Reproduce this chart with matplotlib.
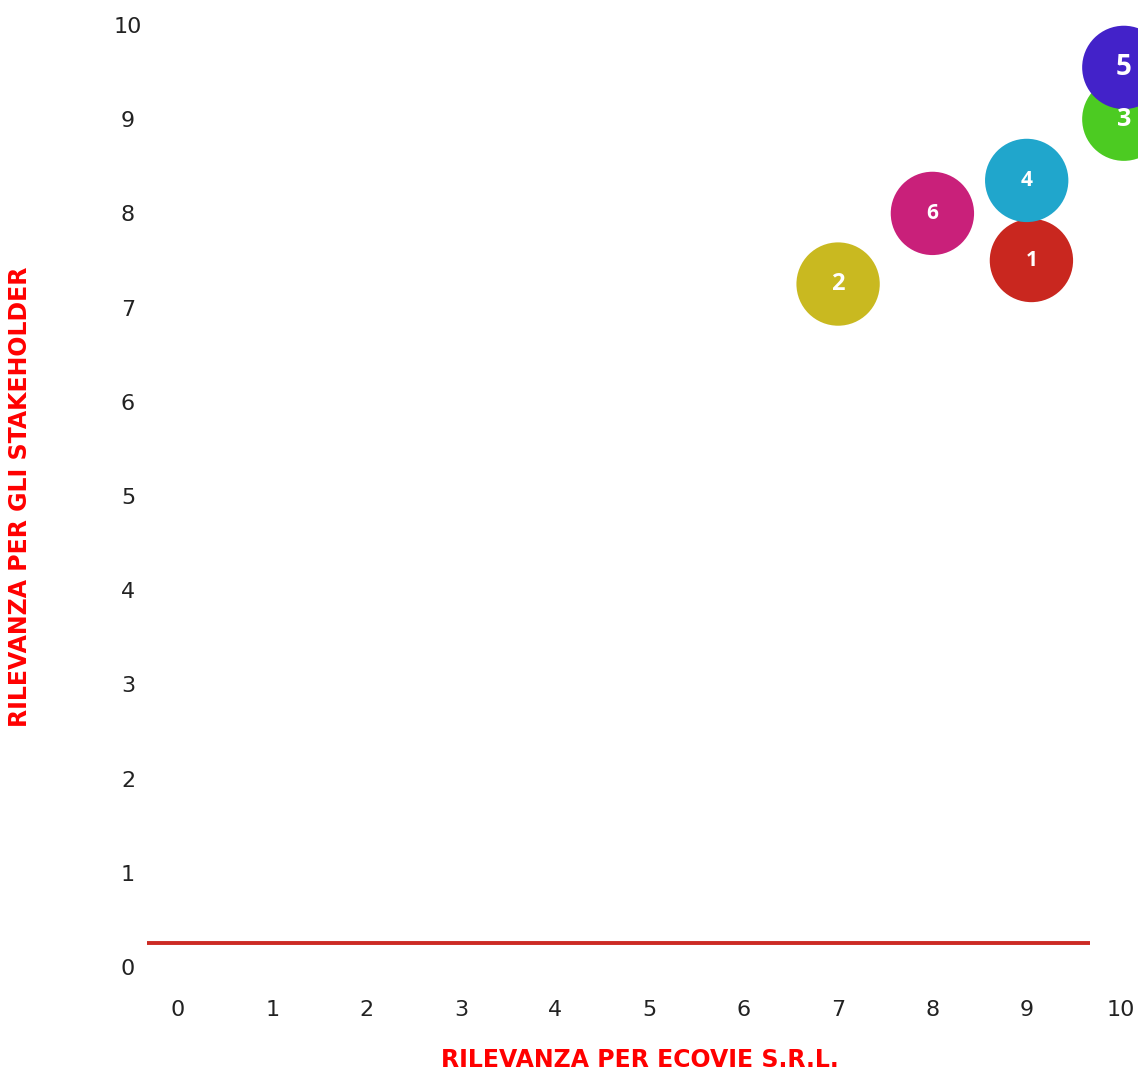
import matplotlib
matplotlib.use("Agg")
import matplotlib.pyplot as plt

# dati della matrice di materialità
temi = ["1", "2", "3", "4", "5", "6"]
rilevanza_azienda = [9.05, 7, 10.03, 9, 10.03, 8]
rilevanza_stakeholder = [7.5, 7.25, 9, 8.35, 9.55, 8]
colori = ["#c9271f", "#c9b920", "#4ccb22", "#20a6cc", "#4322c9", "#c9207a"]
dim_etichetta = [15, 17, 18, 15, 20, 15]
ticks = list(range(0, 11))

W, H = 1138, 1073
fig = plt.figure(figsize=(W / 100, H / 100), dpi=100)

# mappatura pixel: x=0 -> 178px, 10 -> 1121px ; y=0 -> 967px, 10 -> 25px
px_x = (1121 - 178) / 10
px_y = (967 - 25) / 10
xlim = (-0.4, 10.2)
ylim = (-0.2, 10.2)
left = 178 + xlim[0] * px_x
right = 178 + xlim[1] * px_x
bottom = 967 - ylim[0] * px_y
top = 967 - ylim[1] * px_y
ax = fig.add_axes([left / W, (H - bottom) / H, (right - left) / W, (bottom - top) / H])
ax.set_xlim(*xlim)
ax.set_ylim(*ylim)

for s in ax.spines.values():
    s.set_visible(False)

ax.set_xticks(ticks)
ax.set_yticks(ticks)
ax.tick_params(length=0, labelsize=16, colors="#222222")
ax.tick_params(axis="x", pad=10)
ax.tick_params(axis="y", pad=(left - 128) * 0.72)
for lab in ax.get_yticklabels():
    lab.set_horizontalalignment("center")

# linea rossa dell'asse
ax.plot([-0.33, 9.67], [0.25, 0.25], color="#cc2a24", lw=2.8, solid_capstyle="butt")

ax.scatter(rilevanza_azienda, rilevanza_stakeholder, s=3600, c=colori,
           edgecolors="none", clip_on=False, zorder=3)
for t, x, y, fs in zip(temi, rilevanza_azienda, rilevanza_stakeholder, dim_etichetta):
    ax.text(x, y, t, color="white", fontsize=fs, fontweight="bold",
            family="Open Sans", ha="center", va="center", zorder=4, clip_on=False)

fig.text(640 / W, 1 - 1060 / H, "RILEVANZA PER ECOVIE S.R.L.", color="#ff0000",
         fontsize=17, fontweight="bold", ha="center", va="center")
fig.text(20 / W, 1 - 497 / H, "RILEVANZA PER GLI STAKEHOLDER", color="#ff0000",
         fontsize=17, fontweight="bold", ha="center", va="center", rotation=90)

fig.savefig("out.png", dpi=100)
